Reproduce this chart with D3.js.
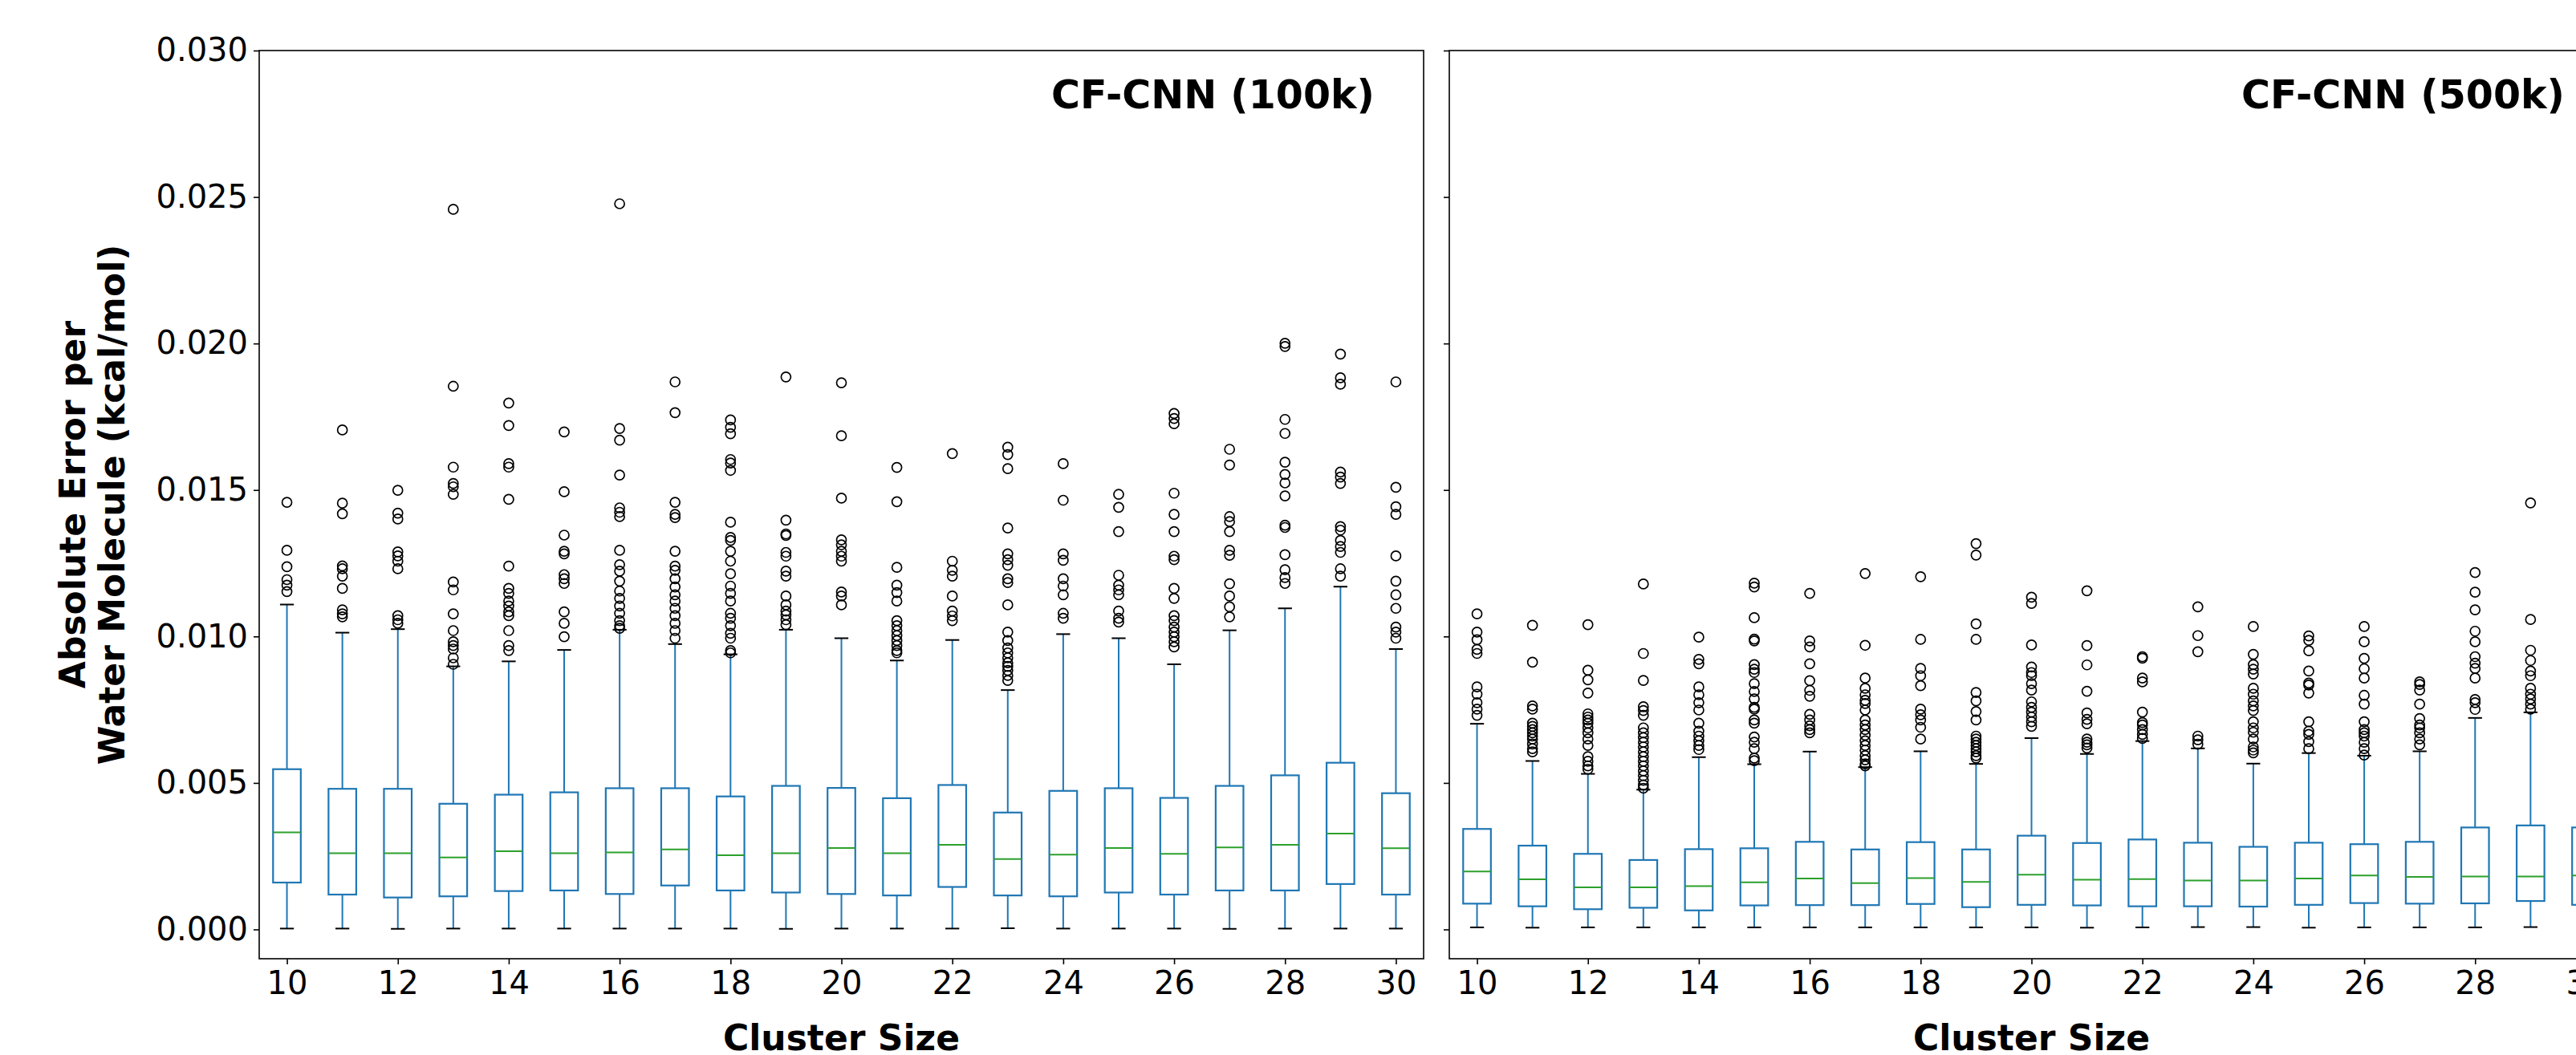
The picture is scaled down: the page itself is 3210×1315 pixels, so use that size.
<!DOCTYPE html>
<html>
<head>
<meta charset="utf-8">
<script src="https://cdn.jsdelivr.net/npm/d3@7"></script>
<style>
  html, body { margin: 0; padding: 0; background: #ffffff; }
  svg { display: block; }
  text { font-family: "DejaVu Sans", sans-serif; fill: #000; }
</style>
</head>
<body>
<svg id="chart" width="3210" height="1315"></svg>
<script>
// ---------------- DATA ----------------
const clusterSizes = [10,11,12,13,14,15,16,17,18,19,20,21,22,23,24,25,26,27,28,29,30];
const xTickSizes = [10,12,14,16,18,20,22,24,26,28,30];
const yTicks = [0.000,0.005,0.010,0.015,0.020,0.025,0.030];
const panelTitles = ["CF-CNN (100k)", "CF-CNN (500k)"];

// CF-CNN (100k) — values in kcal/mol
const q1_100k  = [0.00160,0.00119,0.00109,0.00113,0.00131,0.00133,0.00121,0.00150,0.00133,0.00126,0.00121,0.00116,0.00145,0.00116,0.00113,0.00126,0.00119,0.00133,0.00133,0.00155,0.00119];
const med_100k = [0.00331,0.00260,0.00260,0.00246,0.00267,0.00260,0.00263,0.00273,0.00253,0.00260,0.00278,0.00260,0.00289,0.00240,0.00255,0.00278,0.00258,0.00280,0.00289,0.00327,0.00277];
const q3_100k  = [0.00547,0.00480,0.00480,0.00429,0.00460,0.00468,0.00482,0.00482,0.00454,0.00490,0.00483,0.00448,0.00493,0.00399,0.00473,0.00482,0.00449,0.00490,0.00526,0.00569,0.00465];
const lo_100k  = [0.00003,0.00003,0.00002,0.00003,0.00003,0.00003,0.00003,0.00003,0.00003,0.00002,0.00003,0.00003,0.00003,0.00004,0.00003,0.00003,0.00003,0.00002,0.00003,0.00003,0.00003];
const hi_100k  = [0.01109,0.01013,0.01025,0.00898,0.00915,0.00954,0.01023,0.00974,0.00939,0.01023,0.00994,0.00918,0.00988,0.00817,0.01008,0.00994,0.00905,0.01021,0.01096,0.01170,0.00957];
const fliers_100k = [
  [0.01458,0.01294,0.01238,0.01194,0.01175,0.01153],
  [0.01705,0.01455,0.01419,0.01241,0.01231,0.01206,0.01164,0.01091,0.01077,0.01067],
  [0.01499,0.01421,0.01401,0.01289,0.01275,0.01257,0.01231,0.01071,0.01057,0.01045],
  [0.02458,0.01854,0.01578,0.01522,0.01511,0.01485,0.01186,0.01159,0.01077,0.01020,0.00982,0.00969,0.00957,0.00927,0.00905],
  [0.01797,0.01720,0.01590,0.01578,0.01468,0.01240,0.01164,0.01147,0.01121,0.01104,0.01084,0.01071,0.01020,0.00969,0.00952],
  [0.01698,0.01494,0.01346,0.01291,0.01282,0.01211,0.01197,0.01181,0.01084,0.01045,0.00999],
  [0.02477,0.01710,0.01670,0.01551,0.01439,0.01424,0.01409,0.01294,0.01245,0.01223,0.01189,0.01155,0.01130,0.01104,0.01079,0.01054,0.01037,0.01028],
  [0.01869,0.01764,0.01458,0.01417,0.01406,0.01291,0.01240,0.01226,0.01197,0.01169,0.01142,0.01121,0.01096,0.01071,0.01045,0.01020,0.00994],
  [0.01739,0.01714,0.01692,0.01604,0.01592,0.01567,0.01390,0.01338,0.01328,0.01291,0.01257,0.01214,0.01172,0.01147,0.01121,0.01079,0.01062,0.01037,0.01011,0.00994,0.00952,0.00944],
  [0.01886,0.01397,0.01350,0.01345,0.01287,0.01274,0.01223,0.01206,0.01138,0.01108,0.01087,0.01074,0.01057,0.01040],
  [0.01866,0.01685,0.01472,0.01330,0.01313,0.01291,0.01274,0.01257,0.01152,0.01138,0.01108],
  [0.01577,0.01460,0.01236,0.01175,0.01150,0.01121,0.01054,0.01037,0.01020,0.01003,0.00986,0.00969,0.00952,0.00944],
  [0.01624,0.01257,0.01226,0.01206,0.01138,0.01087,0.01070,0.01054],
  [0.01646,0.01621,0.01573,0.01370,0.01282,0.01262,0.01243,0.01197,0.01184,0.01108,0.01015,0.00986,0.00961,0.00944,0.00927,0.00910,0.00898,0.00884,0.00867,0.00850],
  [0.01590,0.01465,0.01282,0.01260,0.01197,0.01172,0.01142,0.01079,0.01062],
  [0.01485,0.01441,0.01358,0.01209,0.01175,0.01159,0.01142,0.01087,0.01062,0.01049],
  [0.01761,0.01744,0.01726,0.01489,0.01417,0.01358,0.01274,0.01262,0.01164,0.01130,0.01071,0.01054,0.01032,0.01015,0.00999,0.00982,0.00964],
  [0.01639,0.01585,0.01409,0.01392,0.01358,0.01294,0.01277,0.01180,0.01138,0.01101,0.01067],
  [0.02001,0.01990,0.01741,0.01693,0.01595,0.01553,0.01524,0.01480,0.01380,0.01372,0.01279,0.01228,0.01201,0.01181],
  [0.01964,0.01883,0.01861,0.01561,0.01544,0.01522,0.01375,0.01363,0.01328,0.01307,0.01287,0.01231,0.01206],
  [0.01869,0.01509,0.01443,0.01417,0.01275,0.01189,0.01142,0.01096,0.01032,0.01015,0.00994]
];

// CF-CNN (500k) — values in kcal/mol
const q1_500k  = [0.00088,0.00079,0.00069,0.00074,0.00065,0.00082,0.00083,0.00083,0.00087,0.00076,0.00084,0.00082,0.00079,0.00079,0.00078,0.00084,0.00090,0.00088,0.00089,0.00097,0.00084];
const med_500k = [0.00198,0.00171,0.00144,0.00144,0.00148,0.00161,0.00174,0.00158,0.00175,0.00162,0.00187,0.00170,0.00172,0.00167,0.00167,0.00174,0.00184,0.00179,0.00181,0.00181,0.00184];
const q3_500k  = [0.00343,0.00286,0.00258,0.00237,0.00274,0.00277,0.00299,0.00273,0.00298,0.00273,0.00320,0.00295,0.00307,0.00296,0.00282,0.00296,0.00291,0.00299,0.00348,0.00355,0.00348];
const lo_500k  = [0.00007,0.00006,0.00007,0.00007,0.00007,0.00007,0.00007,0.00007,0.00007,0.00007,0.00007,0.00006,0.00007,0.00008,0.00008,0.00006,0.00007,0.00007,0.00007,0.00008,0.00007];
const hi_500k  = [0.00702,0.00575,0.00531,0.00477,0.00588,0.00564,0.00607,0.00554,0.00608,0.00565,0.00653,0.00599,0.00643,0.00618,0.00566,0.00602,0.00593,0.00608,0.00722,0.00741,0.00738];
const fliers_500k = [
  [0.01077,0.01015,0.00989,0.00956,0.00942,0.00828,0.00803,0.00774,0.00752,0.00731],
  [0.01038,0.00912,0.00763,0.00752,0.00704,0.00693,0.00682,0.00671,0.00660,0.00650,0.00633,0.00617,0.00606],
  [0.01040,0.00885,0.00852,0.00807,0.00736,0.00725,0.00715,0.00704,0.00688,0.00671,0.00650,0.00628,0.00590,0.00574,0.00558,0.00547],
  [0.01179,0.00942,0.00850,0.00760,0.00747,0.00731,0.00688,0.00671,0.00655,0.00639,0.00623,0.00606,0.00590,0.00574,0.00558,0.00541,0.00525,0.00509,0.00493,0.00482],
  [0.00998,0.00922,0.00907,0.00828,0.00801,0.00774,0.00749,0.00704,0.00677,0.00660,0.00644,0.00628,0.00614],
  [0.01182,0.01169,0.01064,0.00991,0.00985,0.00904,0.00888,0.00877,0.00839,0.00812,0.00787,0.00758,0.00752,0.00715,0.00704,0.00657,0.00639,0.00617,0.00585,0.00576],
  [0.01147,0.00985,0.00964,0.00907,0.00849,0.00816,0.00796,0.00734,0.00715,0.00695,0.00682,0.00671],
  [0.01215,0.00970,0.00858,0.00823,0.00801,0.00782,0.00771,0.00749,0.00715,0.00698,0.00682,0.00663,0.00644,0.00628,0.00612,0.00593,0.00579,0.00565,0.00558],
  [0.01204,0.00990,0.00891,0.00866,0.00832,0.00752,0.00733,0.00715,0.00690,0.00650],
  [0.01317,0.01278,0.01043,0.00990,0.00809,0.00780,0.00744,0.00715,0.00660,0.00650,0.00639,0.00628,0.00617,0.00606,0.00593,0.00585],
  [0.01134,0.01113,0.00971,0.00896,0.00877,0.00866,0.00839,0.00817,0.00777,0.00758,0.00742,0.00725,0.00709,0.00693],
  [0.01156,0.00969,0.00903,0.00813,0.00739,0.00717,0.00702,0.00650,0.00639,0.00630,0.00619],
  [0.00931,0.00926,0.00858,0.00845,0.00742,0.00706,0.00698,0.00682,0.00666,0.00652],
  [0.01101,0.01003,0.00948,0.00660,0.00647,0.00632],
  [0.01034,0.00939,0.00904,0.00888,0.00872,0.00823,0.00803,0.00780,0.00763,0.00747,0.00709,0.00688,0.00673,0.00650,0.00623,0.00612,0.00603],
  [0.01002,0.00987,0.00951,0.00882,0.00841,0.00834,0.00807,0.00709,0.00677,0.00666,0.00641,0.00617],
  [0.01034,0.00982,0.00925,0.00890,0.00858,0.00799,0.00769,0.00709,0.00682,0.00671,0.00660,0.00639,0.00617,0.00595],
  [0.00845,0.00836,0.00817,0.00769,0.00720,0.00698,0.00688,0.00671,0.00650,0.00630],
  [0.01218,0.01151,0.01091,0.01018,0.00982,0.00931,0.00909,0.00891,0.00858,0.00785,0.00774,0.00751],
  [0.01456,0.01058,0.00953,0.00918,0.00882,0.00866,0.00823,0.00803,0.00787,0.00769,0.00752],
  [0.01074,0.01043,0.00899,0.00836,0.00783,0.00755]
];

// ---------------- LAYOUT ----------------
const svg = d3.select("#chart");
const plotTop = 63, plotBottom = 1195, panelWidth = 1451;
const panels = [
  { left: 323,  title: panelTitles[0], q1: q1_100k, med: med_100k, q3: q3_100k, lo: lo_100k, hi: hi_100k, fliers: fliers_100k, labels: true },
  { left: 1806, title: panelTitles[1], q1: q1_500k, med: med_500k, q3: q3_500k, lo: lo_500k, hi: hi_500k, fliers: fliers_500k, labels: false }
];

const y = d3.scaleLinear().domain([-0.001, 0.030]).range([plotBottom, plotTop]);
const BLUE = "#1f77b4", GREEN = "#2ca02c";

panels.forEach(p => {
  const x = d3.scaleLinear()
    .domain([0.5, clusterSizes.length + 0.5])
    .range([p.left, p.left + panelWidth]);
  const step = x(2) - x(1);
  const boxW = step * 0.5, capW = step * 0.25;
  const g = svg.append("g");

  // y axis
  const yAxis = d3.axisLeft(y).tickValues(yTicks).tickSize(7).tickPadding(7)
    .tickFormat(p.labels ? d3.format(".3f") : () => "");
  const ya = g.append("g").attr("transform", `translate(${p.left},0)`).call(yAxis);
  ya.select(".domain").remove();
  ya.selectAll(".tick line").attr("stroke", "#000").attr("stroke-width", 1.6);
  ya.selectAll(".tick text").attr("font-size", 40).attr("font-family", "DejaVu Sans").attr("fill", "#000");

  // x axis
  const xAxis = d3.axisBottom(x)
    .tickValues(xTickSizes.map(s => clusterSizes.indexOf(s) + 1))
    .tickFormat(i => clusterSizes[i - 1]).tickSize(7).tickPadding(7);
  const xa = g.append("g").attr("transform", `translate(0,${plotBottom})`).call(xAxis);
  xa.select(".domain").remove();
  xa.selectAll(".tick line").attr("stroke", "#000").attr("stroke-width", 1.6);
  xa.selectAll(".tick text").attr("font-size", 40).attr("font-family", "DejaVu Sans").attr("fill", "#000").attr("dy", "0.76em");

  const rows = clusterSizes.map((s, i) => ({ pos: i + 1, q1: p.q1[i], med: p.med[i], q3: p.q3[i], lo: p.lo[i], hi: p.hi[i], fl: p.fliers[i] }));

  const bx = g.append("g");
  // whiskers
  bx.selectAll(".wlo").data(rows).join("line")
    .attr("x1", d => x(d.pos)).attr("x2", d => x(d.pos))
    .attr("y1", d => y(d.q1)).attr("y2", d => y(d.lo))
    .attr("stroke", BLUE).attr("stroke-width", 2);
  bx.selectAll(".whi").data(rows).join("line")
    .attr("x1", d => x(d.pos)).attr("x2", d => x(d.pos))
    .attr("y1", d => y(d.q3)).attr("y2", d => y(d.hi))
    .attr("stroke", BLUE).attr("stroke-width", 2);
  // caps
  ["lo", "hi"].forEach(k => {
    bx.append("g").selectAll("line").data(rows).join("line")
      .attr("x1", d => x(d.pos) - capW / 2).attr("x2", d => x(d.pos) + capW / 2)
      .attr("y1", d => y(d[k])).attr("y2", d => y(d[k]))
      .attr("stroke", "#000").attr("stroke-width", 2);
  });
  // boxes
  bx.append("g").selectAll("rect").data(rows).join("rect")
    .attr("x", d => x(d.pos) - boxW / 2).attr("width", boxW)
    .attr("y", d => y(d.q3)).attr("height", d => y(d.q1) - y(d.q3))
    .attr("fill", "none").attr("stroke", BLUE).attr("stroke-width", 2.2);
  // medians
  bx.append("g").selectAll("line").data(rows).join("line")
    .attr("x1", d => x(d.pos) - boxW / 2).attr("x2", d => x(d.pos) + boxW / 2)
    .attr("y1", d => y(d.med)).attr("y2", d => y(d.med))
    .attr("stroke", GREEN).attr("stroke-width", 2);
  // fliers
  const fl = rows.flatMap(d => d.fl.map(v => ({ pos: d.pos, v })));
  bx.append("g").selectAll("circle").data(fl).join("circle")
    .attr("cx", d => x(d.pos)).attr("cy", d => y(d.v)).attr("r", 6)
    .attr("fill", "none").attr("stroke", "#000").attr("stroke-width", 1.7);

  // frame
  g.append("rect").attr("x", p.left).attr("y", plotTop)
    .attr("width", panelWidth).attr("height", plotBottom - plotTop)
    .attr("fill", "none").attr("stroke", "#000").attr("stroke-width", 1.6);

  // title
  g.append("text").attr("x", p.left + panelWidth - 61).attr("y", 135)
    .attr("text-anchor", "end").attr("font-size", 49).attr("font-weight", "bold")
    .text(p.title);

  // x label
  g.append("text").attr("x", p.left + panelWidth / 2).attr("y", 1309)
    .attr("text-anchor", "middle").attr("font-size", 44).attr("font-weight", "bold")
    .text("Cluster Size");
});

// y label (two lines)
const yMid = (plotTop + plotBottom) / 2;
[["Absolute Error per", 106], ["Water Molecule (kcal/mol)", 155]].forEach(([t, bx]) => {
  svg.append("text").attr("transform", `translate(${bx},${yMid}) rotate(-90)`)
    .attr("text-anchor", "middle").attr("font-size", 44).attr("font-weight", "bold")
    .text(t);
});
</script>
</body>
</html>
